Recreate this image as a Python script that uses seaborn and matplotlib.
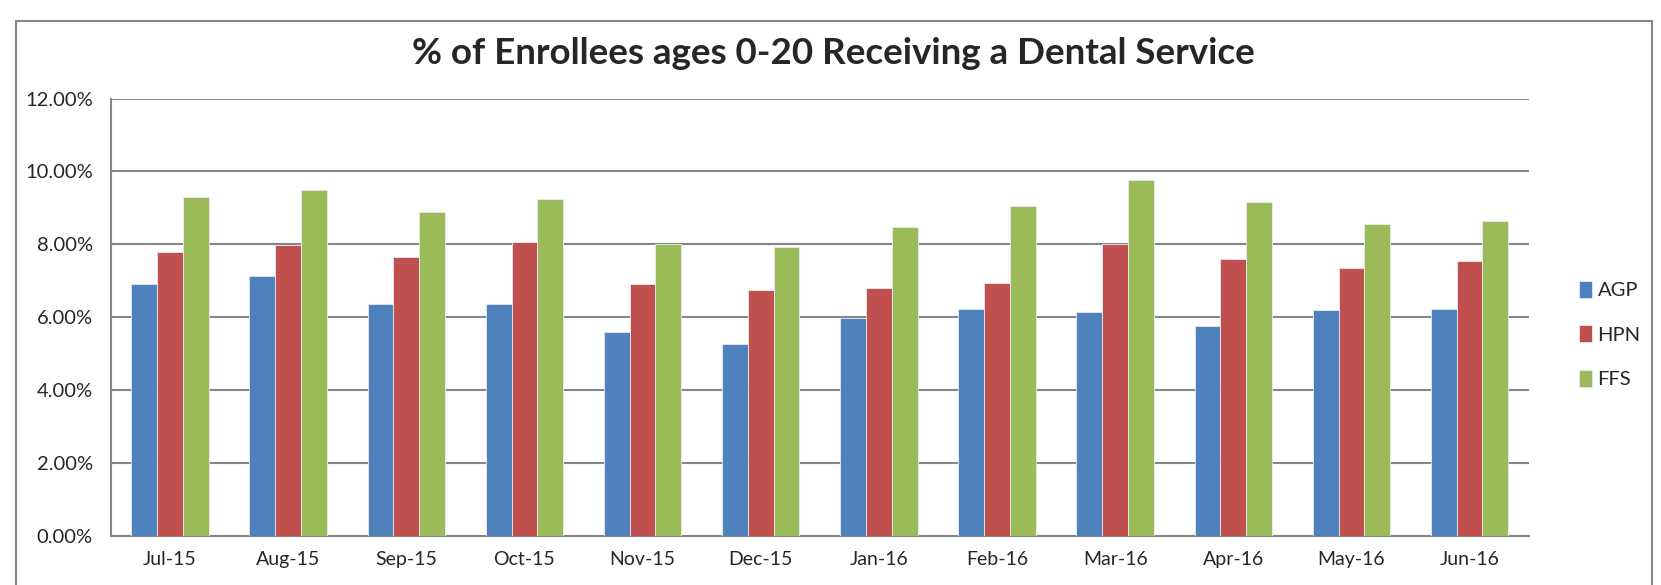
import pandas as pd
import matplotlib.pyplot as plt
import matplotlib.ticker as mtick
from matplotlib.patches import Rectangle
import seaborn as sns

# Monthly values (percent)
months = ['Jul-15', 'Aug-15', 'Sep-15', 'Oct-15', 'Nov-15', 'Dec-15',
          'Jan-16', 'Feb-16', 'Mar-16', 'Apr-16', 'May-16', 'Jun-16']
agp = [6.91, 7.12, 6.37, 6.36, 5.60, 5.26, 5.98, 6.23, 6.15, 5.76, 6.20, 6.22]
hpn = [7.78, 7.98, 7.66, 8.06, 6.92, 6.76, 6.80, 6.95, 8.01, 7.59, 7.36, 7.55]
ffs = [9.31, 9.49, 8.90, 9.25, 8.00, 7.92, 8.47, 9.04, 9.76, 9.15, 8.55, 8.63]
plans = ['AGP', 'HPN', 'FFS']
colors = ['#4F81BD', '#C0504D', '#9BBB59']

# Long format for seaborn
df = pd.DataFrame({'month': months, 'AGP': agp, 'HPN': hpn, 'FFS': ffs})
long_df = df.melt(id_vars='month', var_name='plan', value_name='pct')
long_df['pct'] = long_df['pct'] / 100

sns.set_style('white')
plt.rcParams['font.family'] = ['Lato', 'DejaVu Sans']

fig = plt.figure(figsize=(16.61, 5.85), dpi=100)
ax = fig.add_axes([0.0668, 0.0838, 0.8535, 0.7478])

sns.barplot(data=long_df, x='month', y='pct', hue='plan', hue_order=plans,
            palette=colors, width=0.655, gap=0, saturation=1,
            edgecolor='#E6ECF2', linewidth=0.6, ax=ax, errorbar=None, zorder=3)

ax.set_ylim(0, 0.12)
ax.set_xlim(-0.5, 11.5)
ax.yaxis.set_major_locator(mtick.MultipleLocator(0.02))
ax.yaxis.set_major_formatter(mtick.PercentFormatter(1.0, decimals=2))
ax.grid(axis='y', color='#868686', linewidth=1.5, zorder=0)
ax.set_axisbelow(True)
ax.set_xlabel('')
ax.set_ylabel('')
ax.tick_params(axis='y', length=0, pad=13, labelsize=14.5)
ax.tick_params(axis='x', length=0, pad=11, labelsize=14)

for side in ['top', 'right']:
    ax.spines[side].set_visible(False)
for side in ['left', 'bottom']:
    ax.spines[side].set_color('#868686')
    ax.spines[side].set_linewidth(1.5)

ax.legend(loc='center left', bbox_to_anchor=(0.940, 0.428), bbox_transform=fig.transFigure,
          frameon=False, fontsize=14.5, handlelength=0.6, handleheight=0.9,
          handletextpad=0.3, labelspacing=1.3)

fig.text(0.502, 0.908, '% of Enrollees ages 0-20 Receiving a Dental Service',
         ha='center', va='center', fontsize=26.5, fontweight='bold')

# outer chart border
fig.patches.append(Rectangle((16 / 1661, -0.05), (1652 - 16) / 1661, 1.05 - 21 / 585,
                             transform=fig.transFigure, fill=False,
                             edgecolor='#868686', linewidth=1.5))

plt.savefig('out.png', dpi=100)
